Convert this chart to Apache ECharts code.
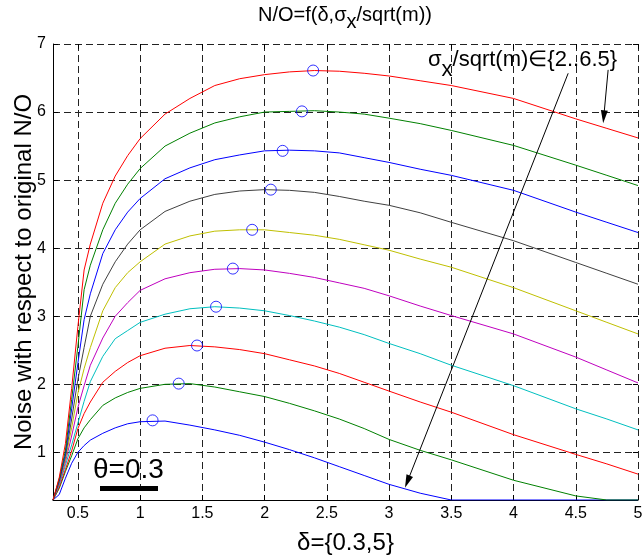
<!DOCTYPE html>
<html><head><meta charset="utf-8">
<script src="https://cdn.jsdelivr.net/npm/echarts@6/dist/echarts.min.js"></script>
<style>html,body{margin:0;padding:0;background:#fff}#c{width:644px;height:557px}</style>
</head><body><div id="c"></div><script>
// delta values (x)
const deltaX = [0.3,0.35,0.4,0.45,0.5,0.55,0.6,0.7,0.8,0.9,1.0,1.2,1.4,1.6,1.8,2.0,2.2,2.4,2.6,2.8,3.0,3.25,3.5,4.0,4.5,4.75,5.0];
// N/O curves for sigma_x/sqrt(m) = 2 .. 6.5
const s20 = [0.3,0.38,0.62,0.84,1.0,1.1,1.18,1.28,1.36,1.42,1.45,1.46,1.40,1.33,1.25,1.15,1.04,0.92,0.79,0.66,0.53,0.40,0.3,0.3,0.3,0.3,0.3];
const s25 = [0.3,0.47,0.72,0.95,1.2,1.36,1.48,1.69,1.80,1.88,1.94,2.0,2.01,1.96,1.89,1.82,1.72,1.61,1.49,1.35,1.19,1.03,0.89,0.59,0.36,0.3,0.3];
const s30 = [0.3,0.49,0.75,1.02,1.35,1.57,1.74,2.03,2.19,2.32,2.42,2.53,2.57,2.55,2.51,2.45,2.36,2.27,2.16,2.03,1.90,1.74,1.59,1.26,0.97,0.83,0.68];
const s35 = [0.3,0.52,0.81,1.11,1.43,1.75,2.04,2.41,2.67,2.79,2.91,3.03,3.11,3.14,3.12,3.08,3.01,2.93,2.84,2.73,2.60,2.45,2.28,1.98,1.64,1.49,1.33];
const s40 = [0.3,0.54,0.86,1.24,1.66,1.98,2.28,2.68,3.0,3.2,3.38,3.55,3.64,3.69,3.70,3.68,3.63,3.57,3.49,3.41,3.30,3.15,3.01,2.74,2.40,2.21,2.02];
const s45 = [0.3,0.56,0.90,1.36,1.87,2.23,2.54,3.08,3.42,3.64,3.80,4.06,4.18,4.25,4.27,4.27,4.23,4.19,4.13,4.05,3.97,3.84,3.72,3.42,3.08,2.91,2.74];
const s50 = [0.3,0.57,0.94,1.49,2.07,2.54,3.0,3.47,3.80,4.06,4.27,4.54,4.69,4.79,4.84,4.86,4.85,4.82,4.76,4.69,4.63,4.52,4.38,4.11,3.79,3.63,3.47];
const s55 = [0.3,0.59,0.98,1.64,2.31,2.95,3.33,3.92,4.27,4.53,4.73,5.02,5.18,5.30,5.37,5.43,5.44,5.43,5.40,5.33,5.26,5.16,5.07,4.85,4.53,4.38,4.23];
const s60 = [0.3,0.61,1.03,1.78,2.56,3.39,3.75,4.27,4.66,4.94,5.17,5.50,5.69,5.84,5.93,6.0,6.01,6.02,6.0,5.97,5.91,5.83,5.73,5.51,5.22,5.07,4.92];
const s65 = [0.3,0.63,1.13,1.94,2.85,3.68,4.06,4.66,5.06,5.36,5.61,5.97,6.2,6.39,6.49,6.55,6.59,6.61,6.60,6.57,6.53,6.46,6.39,6.20,5.90,5.76,5.62];
// maxima (circles)
const peakX = [1.10,1.31,1.457,1.61,1.745,1.90,2.05,2.145,2.30,2.39];
const peakY = [1.47,2.01,2.57,3.14,3.70,4.27,4.86,5.43,6.01,6.61];
// arrows (data coordinates)
const arrow1 = [[4.76,6.62],[4.725,5.93]];
const arrow2 = [[4.439,6.57],[3.147,0.569]];

const curves = [s20,s25,s30,s35,s40,s45,s50,s55,s60,s65];
const colors = ['#0000ff','#008000','#ff0000','#00bfbf','#bf00bf','#bfbf00','#404040','#0000ff','#008000','#ff0000'];
const FF = 'Liberation Sans, Arial, Helvetica, sans-serif';

const series = curves.map((c,i)=>({
  type:'line', data: deltaX.map((x,j)=>[x,c[j]]), showSymbol:false, symbol:'none',
  lineStyle:{color:colors[i], width:1}, itemStyle:{color:colors[i]}, clip:true, z:2,
  emphasis:{disabled:true}, silent:true
}));
series.push({
  type:'scatter', data: peakX.map((x,i)=>[x,peakY[i]]), symbol:'circle', symbolSize:11,
  itemStyle:{color:'rgba(0,0,0,0)', borderColor:'#0000ff', borderWidth:1}, z:3, silent:true,
  markLine:{
    silent:true, animation:false, symbol:['none','triangle'], symbolSize:[7,13],
    label:{show:false}, lineStyle:{color:'#000', type:'solid', width:1},
    emphasis:{disabled:true},
    data:[
      [{coord:arrow1[0]},{coord:arrow1[1]}],
      [{coord:arrow2[0]},{coord:arrow2[1]}]
    ]
  }
});

const chart = echarts.init(document.getElementById('c'));
chart.setOption({
  animation:false,
  backgroundColor:'#fff',
  grid:{left:53,right:6,top:44,bottom:57,containLabel:false,outerBoundsMode:'none'},
  xAxis:[{
    type:'value', min:0.3, max:5, splitNumber:9, position:'bottom',
    axisLine:{show:true,onZero:false,lineStyle:{color:'#000',width:1}},
    axisTick:{show:true,inside:true,length:5,lineStyle:{color:'#000'}},
    axisLabel:{fontSize:16,color:'#000',fontFamily:FF,margin:6,
      formatter:v=>{const r=Math.round(v*2)/2;return (Math.abs(v-r)<1e-6&&v>0.4)?String(r):'';}},
    splitLine:{show:true,lineStyle:{color:'#222',type:[7,4],width:1}},
    name:'δ={0.3,5}', nameLocation:'middle', nameGap:31, nameMoveOverlap:false,
    nameTextStyle:{fontSize:24,color:'#000',fontFamily:FF}
  },{
    type:'value', min:0.3, max:5, splitNumber:9, position:'top',
    axisLine:{show:false}, axisTick:{show:true,inside:true,length:5,lineStyle:{color:'#000'}},
    axisLabel:{show:false}, splitLine:{show:false}
  }],
  yAxis:[{
    type:'value', min:0.3, max:7, splitNumber:7, position:'left',
    axisLine:{show:true,onZero:false,lineStyle:{color:'#000',width:1}},
    axisTick:{show:true,inside:true,length:5,lineStyle:{color:'#000'}},
    axisLabel:{fontSize:16,color:'#000',fontFamily:FF,margin:7,
      formatter:v=>{const r=Math.round(v);return (Math.abs(v-r)<1e-6&&v>0.5)?String(r):'';}},
    splitLine:{show:true,lineStyle:{color:'#222',type:[7,4],width:1}},
    name:'Noise with respect to original N/O', nameLocation:'middle', nameGap:17, nameMoveOverlap:false,
    nameTextStyle:{fontSize:24,color:'#000',fontFamily:FF}
  },{
    type:'value', min:0.3, max:7, splitNumber:7, position:'right',
    axisLine:{show:false}, axisTick:{show:true,inside:true,length:5,lineStyle:{color:'#000'}},
    axisLabel:{show:false}, splitLine:{show:false}
  }],
  graphic:[
    {type:'text', x:345, y:15.5, silent:true, style:{text:'N/O=f(δ,σ{s|x}/sqrt(m))', fontSize:20, fontFamily:FF, fill:'#000',
      align:'center', verticalAlign:'middle', rich:{s:{fontSize:20,fontFamily:FF,fill:'#000',padding:[14,0,0,0]}}}},
    {type:'text', x:428, y:60, silent:true, z:10, style:{text:'σ{s|x}/sqrt(m)∈{2..6.5}', fontSize:22, fontFamily:FF, fill:'#000',
      align:'left', verticalAlign:'middle', rich:{s:{fontSize:22,fontFamily:FF,fill:'#000',padding:[20,0,0,0]}}}},
    {type:'text', x:93, y:470, silent:true, z:10, style:{text:'θ=0.3', fontSize:28, fontFamily:FF, fill:'#000', align:'left', verticalAlign:'middle'}},
    {type:'rect', silent:true, z:10, shape:{x:100,y:486,width:58,height:5}, style:{fill:'#000'}}
  ],
  series: series
});
</script></body></html>
